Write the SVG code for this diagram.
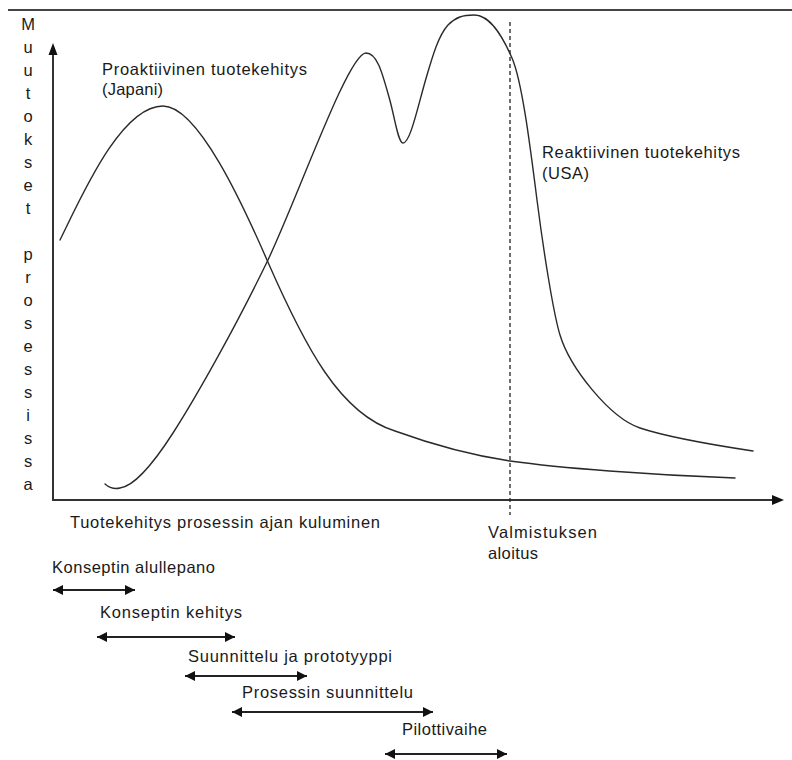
<svg xmlns="http://www.w3.org/2000/svg" width="792" height="760" viewBox="0 0 792 760">
  <defs>
    <style>
      .lbl { font-family: "Liberation Sans", Arial, sans-serif; font-size: 16.5px; fill: #1a1a1a; }
      .vert { font-family: "Liberation Sans", Arial, sans-serif; font-size: 16.5px; fill: #1a1a1a; text-anchor: middle; }
      .axis { stroke: #333; stroke-width: 2; fill: none; }
      .curve { stroke: #2a2a2a; stroke-width: 1.4; fill: none; stroke-linecap: round; }
      .span { stroke: #222; stroke-width: 2; fill: none; marker-start: url(#arrowStart); marker-end: url(#arrowEnd); }
    </style>
    <marker id="arrowEnd" viewBox="0 0 10 10" refX="10" refY="5" markerWidth="5.5" markerHeight="5" markerUnits="strokeWidth" orient="auto">
      <path d="M0,0 L10,5 L0,10 Z" fill="#111"/>
    </marker>
    <marker id="arrowStart" viewBox="0 0 10 10" refX="0" refY="5" markerWidth="5.5" markerHeight="5" markerUnits="strokeWidth" orient="auto">
      <path d="M10,0 L0,5 L10,10 Z" fill="#111"/>
    </marker>
  </defs>

  <rect width="792" height="760" fill="#ffffff"/>

  <!-- top rule -->
  <line x1="8" y1="10" x2="792" y2="10" stroke="#444" stroke-width="2.2"/>

  <!-- axes -->
  <g id="axes">
    <line class="axis" x1="53" y1="500" x2="53" y2="54"/>
    <path d="M53,43 L48.5,55 L57.5,55 Z" fill="#111"/>
    <line class="axis" x1="52" y1="500" x2="773" y2="500"/>
    <path d="M784,500 L772,495 L772,505 Z" fill="#111"/>
  </g>

  <!-- vertical axis title -->
  <g id="y-title">
    <text class="vert" x="28" y="30">M</text>
    <text class="vert" x="28" y="53">u</text>
    <text class="vert" x="28" y="76">u</text>
    <text class="vert" x="28" y="99">t</text>
    <text class="vert" x="28" y="122">o</text>
    <text class="vert" x="28" y="145">k</text>
    <text class="vert" x="28" y="168">s</text>
    <text class="vert" x="28" y="191">e</text>
    <text class="vert" x="28" y="214">t</text>
    <text class="vert" x="28" y="260">p</text>
    <text class="vert" x="28" y="283">r</text>
    <text class="vert" x="28" y="306">o</text>
    <text class="vert" x="28" y="329">s</text>
    <text class="vert" x="28" y="352">e</text>
    <text class="vert" x="28" y="375">s</text>
    <text class="vert" x="28" y="398">s</text>
    <text class="vert" x="28" y="421">i</text>
    <text class="vert" x="28" y="444">s</text>
    <text class="vert" x="28" y="467">s</text>
    <text class="vert" x="28" y="490">a</text>
  </g>

  <!-- production start marker -->
  <g id="production-start">
    <line x1="510" y1="22" x2="510" y2="515" stroke="#222" stroke-width="1.3" stroke-dasharray="4,3"/>
    <text class="lbl" x="488" y="538" textLength="109" lengthAdjust="spacing">Valmistuksen</text>
    <text class="lbl" x="488" y="559" textLength="50" lengthAdjust="spacing">aloitus</text>
  </g>

  <!-- proactive development curve -->
  <g id="curve-proactive">
    <path class="curve" d="M60,240 C80,200 120,106 163,106 C198,106 243,205 267,260 C305,347 340,414 395,431 C428,443 470,455 510,461 C560,468 650,475 735,478"/>
    <text class="lbl" x="102" y="75" textLength="205" lengthAdjust="spacing">Proaktiivinen tuotekehitys</text>
    <text class="lbl" x="102" y="95" textLength="61" lengthAdjust="spacing">(Japani)</text>
  </g>

  <!-- reactive development curve -->
  <g id="curve-reactive">
    <path class="curve" d="M105,484 Q112,490 120,488 C135,486 155,461 173,433 C198,394 237,324 267,262 C297,200 348,53 366,53 C377,53 382,72 389,97 C395,118 398,143 403,143 C410,143 417,110 425,82 C432,58 438,36 448,25 C456,17 463,15 474,15 C490,15 502,35 512,58 C522,81 530,145 537,200 C543,247 553,312 560,335 C570,368 610,418 640,428 C670,438 720,446 753,451"/>
    <text class="lbl" x="542" y="158" textLength="198" lengthAdjust="spacing">Reaktiivinen tuotekehitys</text>
    <text class="lbl" x="542" y="179" textLength="47" lengthAdjust="spacing">(USA)</text>
  </g>

  <!-- horizontal axis title -->
  <text id="x-title" class="lbl" x="70" y="528" textLength="310" lengthAdjust="spacing">Tuotekehitys prosessin ajan kuluminen</text>

  <!-- phase spans -->
  <g id="phase-1">
    <text class="lbl" x="52" y="573" textLength="163" lengthAdjust="spacing">Konseptin alullepano</text>
  </g>
  <g id="phase-2">
    <text class="lbl" x="100" y="618" textLength="142" lengthAdjust="spacing">Konseptin kehitys</text>
  </g>
  <g id="phase-3">
    <text class="lbl" x="188" y="662" textLength="204" lengthAdjust="spacing">Suunnittelu ja prototyyppi</text>
  </g>
  <g id="phase-4">
    <text class="lbl" x="242" y="698" textLength="171" lengthAdjust="spacing">Prosessin suunnittelu</text>
  </g>
  <g id="phase-5">
    <text class="lbl" x="402" y="735" textLength="85" lengthAdjust="spacing">Pilottivaihe</text>
  </g>

  <g id="connectors">
    <line class="span" x1="53" y1="590" x2="135" y2="590"/>
    <line class="span" x1="97" y1="637" x2="235" y2="637"/>
    <line class="span" x1="185" y1="676" x2="307" y2="676"/>
    <line class="span" x1="232" y1="712" x2="433" y2="712"/>
    <line class="span" x1="385" y1="754" x2="507" y2="754"/>
  </g>
</svg>
